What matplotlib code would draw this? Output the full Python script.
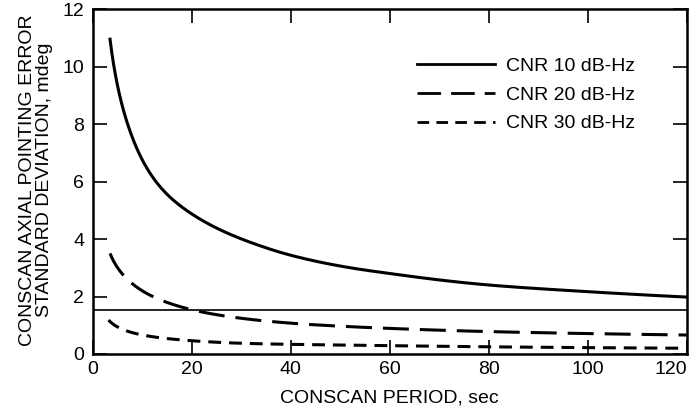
import matplotlib
matplotlib.use('Agg')
import matplotlib.pyplot as plt
import numpy as np

# values (period in sec, error in mdeg)
period_10 = [3.5, 7.07, 13.9, 22.0, 32.4, 39.9, 52.0, 60.0, 80.0, 99.8, 120.0]
error_10 = [10.95, 7.99, 5.76, 4.66, 3.85, 3.44, 3.0, 2.8, 2.4, 2.17, 1.98]

period_20 = [3.5, 7.9, 14.6, 22.7, 40.2, 60.0, 80.0, 120.0]
error_20 = [3.5, 2.46, 1.82, 1.44, 1.07, 0.89, 0.78, 0.66]

period_30 = [3.2, 8.5, 16.6, 30.8, 60.0, 80.0, 120.0]
error_30 = [1.18, 0.72, 0.51, 0.37, 0.29, 0.25, 0.2]

threshold = 1.52

labels = ['CNR 10 dB-Hz', 'CNR 20 dB-Hz', 'CNR 30 dB-Hz']

plt.rcParams['font.family'] = ['Liberation Sans', 'DejaVu Sans']


def pchip(xs, ys, xx):
    # monotone cubic through the read points, so the curve has no kinks
    x = np.asarray(xs, float)
    y = np.asarray(ys, float)
    h = np.diff(x)
    d = np.diff(y) / h
    m = np.zeros_like(y)
    for k in range(1, len(x) - 1):
        if d[k - 1] * d[k] > 0:
            w1 = 2 * h[k] + h[k - 1]
            w2 = h[k] + 2 * h[k - 1]
            m[k] = (w1 + w2) / (w1 / d[k - 1] + w2 / d[k])
    m[0] = d[0]
    m[-1] = d[-1]
    i = np.clip(np.searchsorted(x, xx) - 1, 0, len(x) - 2)
    t = (xx - x[i]) / h[i]
    h00 = 2 * t**3 - 3 * t**2 + 1
    h10 = t**3 - 2 * t**2 + t
    h01 = -2 * t**3 + 3 * t**2
    h11 = t**3 - t**2
    return h00 * y[i] + h10 * h[i] * m[i] + h01 * y[i + 1] + h11 * h[i] * m[i + 1]


def smooth(xs, ys):
    lx = np.log(xs)
    xx = np.linspace(lx[0], lx[-1], 400)
    return np.exp(xx), np.exp(pchip(lx, np.log(ys), xx))


def main():
    fig = plt.figure(figsize=(6.98, 4.11), dpi=100)
    ax = fig.add_axes([92.7 / 698, 1 - 354 / 411, (686.7 - 92.7) / 698, (354 - 9) / 411])

    x, y = smooth(period_10, error_10)
    ax.plot(x, y, color='black', lw=2.2, label=labels[0])
    x, y = smooth(period_20, error_20)
    ax.plot(x, y, color='black', lw=2.2, dashes=(8.5, 3.6), label=labels[1])
    x, y = smooth(period_30, error_30)
    ax.plot(x, y, color='black', lw=2.2, dashes=(4.2, 2.6), label=labels[2])

    ax.axhline(threshold, color='black', lw=1.2)

    ax.set_xlim(0, 120)
    ax.set_ylim(0, 12)
    ax.set_xticks(np.arange(0, 121, 20))
    ax.set_yticks(np.arange(0, 13, 2))
    ax.tick_params(direction='in', length=10, width=1.2, top=True, right=True,
                   labelsize=14)
    ax.tick_params(axis='x', pad=5)
    ax.tick_params(axis='y', pad=6)
    ax.get_xticklabels()[-1].set_horizontalalignment('right')
    for s in ax.spines.values():
        s.set_linewidth(1.8)

    ax.set_xlabel('CONSCAN PERIOD, sec', fontsize=14, labelpad=8)
    fig.text(36 / 698, 1 - 180 / 411,
             'CONSCAN AXIAL POINTING ERROR\nSTANDARD DEVIATION, mdeg',
             rotation=90, ha='center', va='center', fontsize=14, linespacing=1.0)

    leg = ax.legend(loc='upper left', bbox_to_anchor=((417 - 92.7) / 594, 1 - (57 - 9) / 345),
                    frameon=False, fontsize=14, handlelength=4.0, handletextpad=0.6,
                    labelspacing=0.58, borderpad=0.0, borderaxespad=0.0)
    for line in leg.get_lines():
        line.set_linewidth(2.0)

    fig.savefig('out.png', dpi=100)
    plt.close(fig)


if __name__ == '__main__':
    main()
